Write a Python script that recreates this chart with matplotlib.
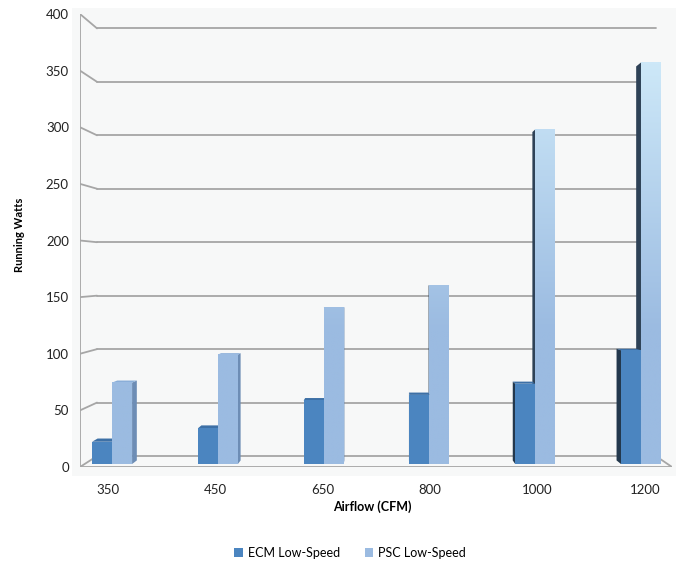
import numpy as np
import matplotlib
matplotlib.use("Agg")
import matplotlib.pyplot as plt
from matplotlib.patches import Polygon, Rectangle
from matplotlib.colors import to_rgb

plt.rcParams['font.family'] = ['Lato', 'DejaVu Sans']

# data
airflow = ["350", "450", "650", "800", "1000", "1200"]
ecm_watts = [20, 32, 57, 62, 72, 102]
psc_watts = [73, 98, 140, 160, 300, 360]
y_ticks = [0, 50, 100, 150, 200, 250, 300, 350, 400]
series_names = ["ECM Low-Speed", "PSC Low-Speed"]

ecm_color = "#4b85c0"
psc_color = "#9bbbe1"
psc_top_color = "#cde8f8"

# fake perspective: points shrink toward a vanishing point as depth goes 0 -> 1
XL, XR = -0.26, 5.252
VPX, VPY = 2.571, 173.0
K = 0.056
D0, D1 = 0.27, 0.6
BW = 0.189


def proj(x, y, d):
    s = 1 - K * d
    return VPX + s * (x - VPX), VPY + s * (y - VPY)


def poly(pts, **kw):
    return Polygon([proj(*p) for p in pts], closed=True, **kw)


fig = plt.figure(figsize=(6.81, 5.67), dpi=100)
fig.patches.append(Rectangle((72 / 681, 1 - 476 / 567), 604 / 681, 468 / 567,
                             transform=fig.transFigure, facecolor="#f7f8f8",
                             edgecolor="none", zorder=-5))
ax = fig.add_axes([80 / 681, 100 / 567, 592 / 681, 453 / 567])
ax.set_facecolor("none")
ax.set_xlim(XL, XR)
ax.set_ylim(0, 400)
for s in ax.spines.values():
    s.set_visible(False)

grid_kw = dict(color="#a6a6a6", lw=1.3, solid_capstyle="round", zorder=1)
for v in y_ticks:
    (x0, y0), (x1, y1) = proj(XL, v, 0), proj(XL, v, 1)
    ax.plot([x0, x1], [y0, y1], **grid_kw)
    (x2, y2) = proj(XR, v, 1)
    ax.plot([x1, x2], [y1, y2], **grid_kw)
# front axis and floor edges
ax.plot([XL, XL], [0, 400], **grid_kw)
ax.plot([XL, XR], [0, 0], **grid_kw)
fx, fy = proj(XR, 0, 1)
ax.plot([XR, fx], [0, fy], **grid_kw)


def bar(xc, v, front, side_dark, side_light, top, gradient=None, z=2):
    x0, x1 = xc - BW / 2, xc + BW / 2
    left_side = xc > VPX
    if left_side:
        ax.add_patch(poly([(x0, 0, D0), (x0, 0, D1), (x0, v, D1), (x0, v, D0)],
                          facecolor=side_dark, edgecolor="none", zorder=z))
    else:
        ax.add_patch(poly([(x1, 0, D0), (x1, 0, D1), (x1, v, D1), (x1, v, D0)],
                          facecolor=side_light, edgecolor="none", zorder=z))
    if v < VPY:
        ax.add_patch(poly([(x0, v, D0), (x1, v, D0), (x1, v, D1), (x0, v, D1)],
                          facecolor=top, edgecolor="none", zorder=z))
    fp = poly([(x0, 0, D0), (x1, 0, D0), (x1, v, D0), (x0, v, D0)],
              facecolor=front, edgecolor="none", zorder=z)
    ax.add_patch(fp)
    if gradient is not None:
        (ax0, ay0), (ax1, ay1) = proj(x0, 0, D0), proj(x1, v, D0)
        ys = np.linspace(v, 0, 100)
        t = np.clip((ys - 120) / 240, 0, 1)[:, None]
        c0, c1 = np.array(to_rgb(gradient[0])), np.array(to_rgb(gradient[1]))
        img = (c0 * (1 - t) + c1 * t)[:, None, :]
        ax.imshow(img, extent=[ax0, ax1, ay0, ay1], aspect="auto",
                  interpolation="bilinear", zorder=z + 0.1)


for i, (e, p) in enumerate(zip(ecm_watts, psc_watts)):
    xe, xp = i - BW / 2, i + BW / 2
    ecm_args = (xe, e, ecm_color, "#23384d", "#3a6a9c", "#3d70a6")
    psc_args = (xp, p, psc_color, "#2e4257", "#6d8db5", "#8aaed8")
    if i < VPX:
        bar(*ecm_args, z=2)
        bar(*psc_args, gradient=(psc_color, psc_top_color), z=3)
    else:
        bar(*psc_args, gradient=(psc_color, psc_top_color), z=2)
        bar(*ecm_args, z=3)

ax.set_xlim(XL, XR)
ax.set_ylim(0, 400)
ax.set_xticks(range(len(airflow)))
ax.set_xticklabels(airflow)
ax.set_yticks(y_ticks)
ax.tick_params(axis="x", length=0, pad=12, labelsize=9.5, labelcolor="#222222")
ax.tick_params(axis="y", length=0, pad=8, labelsize=9.5, labelcolor="#222222")

fig.text(20 / 681, 1 - 235 / 567, "Running Watts", rotation=90, ha="center",
         va="center", fontsize=8, fontweight="bold")
fig.text(372 / 681, 1 - 507 / 567, "Airflow (CFM)", ha="center", va="center",
         fontsize=9, fontweight="bold")

handles = [Rectangle((0, 0), 1, 1, facecolor=ecm_color),
           Rectangle((0, 0), 1, 1, facecolor=psc_color)]
fig.legend(handles, series_names, loc="center", bbox_to_anchor=(350 / 681, 1 - 553 / 567),
           ncol=2, frameon=False, fontsize=9, handlelength=0.7, handleheight=0.7,
           handletextpad=0.4, columnspacing=2.0)

fig.savefig("out.png", dpi=100)
